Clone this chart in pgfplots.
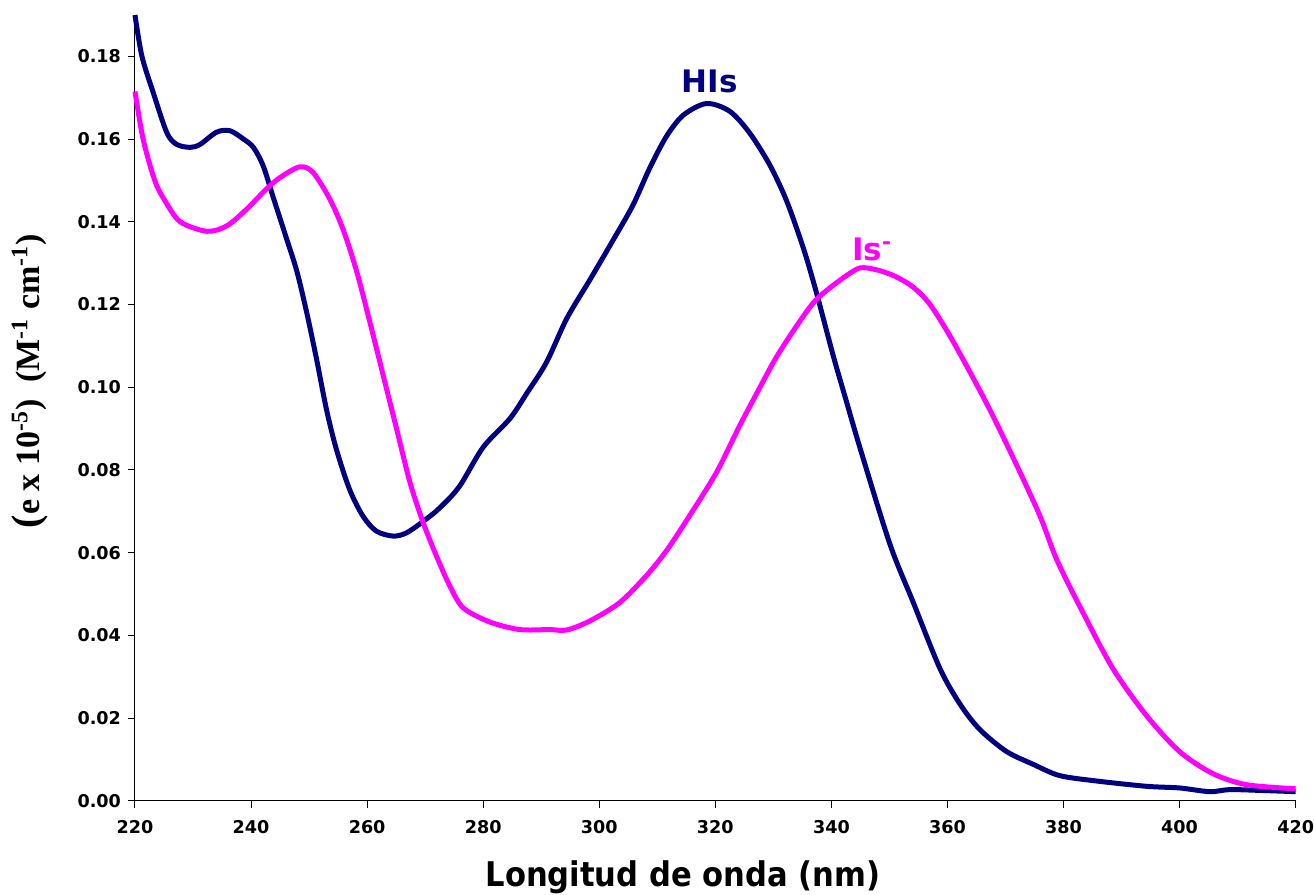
\documentclass[border=0pt]{standalone}
\usepackage{fontspec}
\usepackage{pgfplots}
\pgfplotsset{compat=1.18}
\setmainfont{DejaVu Sans}
\newfontfamily\tahoma{DejaVu Sans Condensed}
\newfontfamily\timesf{Liberation Serif}
\definecolor{hisnavy}{RGB}{0,0,128}
\definecolor{ismag}{RGB}{255,0,255}

\pgfplotstableread{
lam eps
220   0.190
221.2 0.180
223.2 0.171
225.5 0.1615
227.2 0.1587
229.5 0.158
231.2 0.1587
234.1 0.1617
236.4 0.162
238.7 0.160
240.4 0.158
242.1 0.1535
243.8 0.146
246.1 0.136
247.9 0.128
249.6 0.118
251.3 0.1067
253.0 0.0946
254.7 0.085
257.0 0.0752
259.3 0.0688
261.6 0.0652
264.5 0.064
266.8 0.0648
269.7 0.0676
272.5 0.0708
275.9 0.076
280.0 0.0855
284.6 0.0924
287.5 0.0985
290.9 0.106
294.4 0.1166
298.4 0.126
302.4 0.1356
305.8 0.144
308.7 0.153
311.6 0.1607
314.5 0.1658
318.5 0.1686
322.5 0.1667
325.9 0.1615
329.4 0.1537
332.3 0.145
335.2 0.1335
337.4 0.123
340.3 0.1077
342.5 0.097
345.0 0.085
350.1 0.062
354.1 0.048
358.7 0.032
362.2 0.0233
365.6 0.0172
370.2 0.0119
374.8 0.0088
379.3 0.0061
385.6 0.0048
394.3 0.0035
400   0.0031
405.2 0.0022
408.6 0.0027
414   0.0025
420   0.0022
}\his

\pgfplotstableread{
lam eps
220   0.1715
221.4 0.160
223.4 0.150
225.2 0.145
227.8 0.140
232.4 0.1377
235.8 0.139
239.2 0.143
242.7 0.148
245.0 0.1507
248.4 0.1533
250.7 0.1519
253.6 0.1454
255.9 0.138
258.2 0.128
260.5 0.1156
262.8 0.1027
265.1 0.0898
267.4 0.0769
269.7 0.0671
272.0 0.059
274.3 0.0518
276.6 0.0466
281.2 0.0432
286.3 0.0414
291.5 0.0414
294.4 0.0413
298.4 0.0435
303.5 0.0479
308.1 0.0544
311.6 0.0605
315.6 0.069
320.2 0.0794
324.2 0.0907
327.7 0.100
330.2 0.1065
332.9 0.1125
336.1 0.119
338.0 0.122
341.4 0.1258
344.3 0.1285
345.7 0.1289
348.3 0.1282
351.0 0.1268
354.0 0.1243
357.0 0.120
361.0 0.111
366.7 0.0962
371.3 0.083
375.9 0.069
378.8 0.0584
382.8 0.047
388.5 0.032
394.3 0.0206
400   0.0119
405.7 0.0066
411.5 0.0039
420   0.0029
}\isminus

\begin{document}
\begin{tikzpicture}
\begin{axis}[
    scale only axis,
    width=580.5pt, height=393pt,
    xmin=220, xmax=420, ymin=0, ymax=0.19,
    clip=false,
    axis x line*=bottom, axis y line*=left,
    axis line style={line width=0.5pt},
    xtick={220,240,...,420},
    ytick={0,0.02,0.04,0.06,0.08,0.10,0.12,0.14,0.16,0.18},
    tick align=outside, major tick length=3.5pt,
    tick style={black, line width=0.5pt},
    scaled y ticks=false,
    tick label style={font=\bfseries\fontsize{8.8}{10}\selectfont},
    xticklabel style={/pgf/number format/assume math mode=true, inner xsep=0pt, yshift=-3pt},
    yticklabel style={/pgf/number format/.cd, fixed, fixed zerofill, precision=2, assume math mode=true},
]
\path (rel axis cs:-0.1163,-0.1196) rectangle (rel axis cs:1.0155,1.0191);
\addplot[hisnavy, line width=2.5pt, smooth, tension=0.5] table[x=lam, y=eps] {\his};
\addplot[ismag, line width=2.5pt, smooth, tension=0.5] table[x=lam, y=eps] {\isminus};
\node[anchor=base, inner sep=0, text=hisnavy, font=\bfseries\fontsize{15.5}{16}\selectfont] at (axis cs:319,0.1713) {HIs};
\node[anchor=base west, inner sep=0, text=ismag, font=\bfseries\fontsize{15.5}{16}\selectfont] at (axis cs:343.5,0.1307) {Is\textsuperscript{-}};
\node[anchor=base, inner sep=0, font=\tahoma\bfseries\fontsize{17}{18}\selectfont] at ([yshift=-43pt]axis description cs:0.472,0) {Longitud de onda (nm)};
\node[rotate=90, anchor=center, inner sep=0, font=\timesf\bfseries\fontsize{17}{18}\selectfont] at ([xshift=-52.5pt]axis description cs:0,0.534) {{\fontsize{20}{20}\selectfont(}e x 10\textsuperscript{-5})\ \ (M\textsuperscript{-1} cm\textsuperscript{-1})};
\end{axis}
\end{tikzpicture}
\end{document}
